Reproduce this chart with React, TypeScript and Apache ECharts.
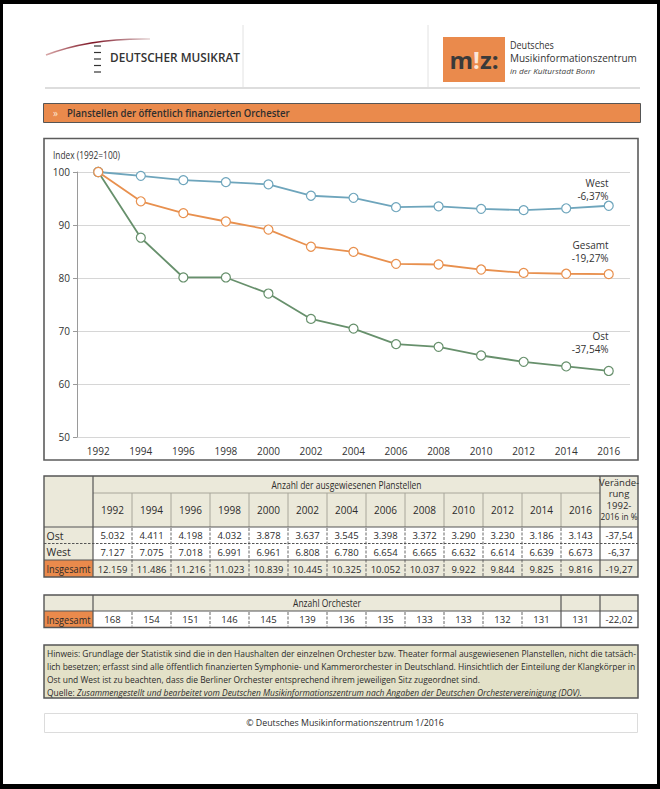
import React, { useEffect, useRef } from 'react';
import * as echarts from 'echarts';

// ---------- data ----------
const years = ['1992', '1994', '1996', '1998', '2000', '2002', '2004', '2006', '2008', '2010', '2012', '2014', '2016'];
const westIndex = [100, 99.27, 98.47, 98.09, 97.67, 95.52, 95.13, 93.36, 93.52, 93.05, 92.8, 93.15, 93.63];
const gesamtIndex = [100, 94.47, 92.24, 90.66, 89.14, 85.9, 84.92, 82.67, 82.55, 81.6, 80.96, 80.8, 80.73];
const ostIndex = [100, 87.6, 80.1, 80.1, 77.07, 72.28, 70.45, 67.53, 67.01, 65.38, 64.19, 63.31, 62.46];
const endLabels = { West: 'West\n-6,37%', Gesamt: 'Gesamt\n-19,27%', Ost: 'Ost\n-37,54%' };
const yMin = 50;
const yMax = 100;
const yStep = 10;

const ostPlan = ['5.032', '4.411', '4.198', '4.032', '3.878', '3.637', '3.545', '3.398', '3.372', '3.290', '3.230', '3.186', '3.143'];
const westPlan = ['7.127', '7.075', '7.018', '6.991', '6.961', '6.808', '6.780', '6.654', '6.665', '6.632', '6.614', '6.639', '6.673'];
const totalPlan = ['12.159', '11.486', '11.216', '11.023', '10.839', '10.445', '10.325', '10.052', '10.037', '9.922', '9.844', '9.825', '9.816'];
const planChange = ['-37,54', '-6,37', '-19,27'];
const rowLabels = ['Ost', 'West', 'Insgesamt'];
const orchestras = ['168', '154', '151', '146', '145', '139', '136', '135', '133', '133', '132', '131', '131'];
const orchestraChange = ['-22,02'];

const noteLines = [
  'Hinweis: Grundlage der Statistik sind die in den Haushalten der einzelnen Orchester bzw. Theater formal ausgewiesenen Planstellen, nicht die tatsäch-',
  'lich besetzen; erfasst sind alle öffentlich finanzierten Symphonie- und Kammerorchester in Deutschland. Hinsichtlich der Einteilung der Klangkörper in',
  'Ost und West ist zu beachten, dass die Berliner Orchester entsprechend ihrem jeweiligen Sitz zugeordnet sind.',
];
const sourcePrefix = 'Quelle: ';
const sourceText = 'Zusammengestellt und bearbeitet vom Deutschen Musikinformationszentrum nach Angaben der Deutschen Orchestervereinigung (DOV).';

// ---------- styling ----------
const FONT = '"Open Sans", "Noto Sans", sans-serif';
const INK = '#2b2b2b';
const BEIGE = '#ebe9da';
const ORANGE = '#ea8a4c';
const BORDER = '#555';
const C_WEST = '#6ea5bc';
const C_GES = '#e8904e';
const C_OST = '#67906c';

let mctx: CanvasRenderingContext2D | null = null;
function measure(text: string, size: number, weight = 'normal', style = 'normal') {
  if (!mctx) mctx = document.createElement('canvas').getContext('2d');
  if (!mctx) return text.length * size * 0.5;
  mctx.font = `${style} ${weight} ${size}px "Open Sans"`;
  return mctx.measureText(text).width;
}

type TOpt = { size?: number; weight?: string; color?: string; align?: string; fit?: number; italic?: boolean; z?: number };
function txt(text: string, x: number, y: number, o: TOpt = {}) {
  const size = o.size ?? 10;
  const weight = o.weight ?? 'normal';
  const fs = o.italic ? 'italic' : 'normal';
  const scale = o.fit ? o.fit / measure(text, size, weight, fs) : 1;
  const align = o.align ?? 'left';
  return {
    type: 'text',
    x,
    y,
    scaleX: scale,
    silent: true,
    z: o.z ?? 20,
    style: {
      text,
      fill: o.color ?? INK,
      fontSize: size,
      fontFamily: FONT,
      fontWeight: weight,
      fontStyle: fs,
      align,
      textAlign: align,
      verticalAlign: 'middle',
      textVerticalAlign: 'middle',
    },
  };
}
function rect(x: number, y: number, w: number, h: number, fill: string, stroke?: string, lw = 1, z = 5) {
  return {
    type: 'rect',
    silent: true,
    z,
    shape: { x, y, width: w, height: h },
    style: { fill, stroke: stroke ?? 'none', lineWidth: lw },
  };
}
function line(x1: number, y1: number, x2: number, y2: number, stroke: string, lw = 1, dash?: number[], z = 8) {
  return {
    type: 'line',
    silent: true,
    z,
    shape: { x1, y1, x2, y2 },
    style: { stroke, lineWidth: lw, lineDash: dash },
  };
}

function buildGraphics() {
  const g: any[] = [];
  // black frame
  g.push(rect(0, 0, 660, 4, '#000', undefined, 1, 50));
  g.push(rect(0, 0, 3, 789, '#000', undefined, 1, 50));
  g.push(rect(657, 0, 3, 789, '#000', undefined, 1, 50));
  g.push(rect(0, 784, 660, 5, '#000', undefined, 1, 50));

  // ---- header: Deutscher Musikrat ----
  g.push({
    type: 'bezierCurve',
    silent: true,
    z: 10,
    shape: { x1: 46, y1: 55, cpx1: 90, cpy1: 38, x2: 150, y2: 39 },
    style: {
      stroke: new echarts.graphic.LinearGradient(0, 0, 1, 0, [
        { offset: 0, color: '#d9a9a9' },
        { offset: 0.45, color: '#7d1424' },
        { offset: 1, color: '#e6d6d6' },
      ]),
      lineWidth: 1.6,
      fill: 'none',
    },
  });
  [46, 52.5, 59, 65.5, 72].forEach((yy) => g.push(line(94, yy, 101, yy, '#333', 1.2)));
  g.push(txt('DEUTSCHER MUSIKRAT', 110, 57, { size: 12, weight: '600', color: '#333', fit: 130 }));
  g.push(line(243, 25, 243, 87, '#e2e2e2', 1));
  g.push(line(428, 25, 428, 87, '#e2e2e2', 1));
  g.push(line(45, 88, 640, 88, '#dddddd', 2));

  // ---- miz logo ----
  g.push(rect(443, 37, 62, 45, ORANGE, undefined, 1, 6));
  g.push({
    type: 'text',
    x: 474,
    y: 59,
    silent: true,
    z: 20,
    style: {
      text: '{a|m}{b|!}{a|z:}',
      align: 'center',
      textAlign: 'center',
      verticalAlign: 'middle',
      textVerticalAlign: 'middle',
      rich: {
        a: { fontSize: 24, fontWeight: 'bold', fontFamily: FONT, fill: '#3a3a3a', color: '#3a3a3a' },
        b: { fontSize: 24, fontWeight: 'bold', fontFamily: FONT, fill: '#fbe7d8', color: '#fbe7d8' },
      },
    },
  });
  g.push(txt('Deutsches', 510, 45, { size: 11, color: '#333', fit: 44 }));
  g.push(txt('Musikinformationszentrum', 510, 58, { size: 11, color: '#333', fit: 127 }));
  g.push(txt('in der Kulturstadt Bonn', 510, 71, { size: 8, italic: true, color: '#444', fit: 85 }));

  // ---- title bar ----
  g.push(rect(43.5, 103.5, 597, 19, ORANGE, BORDER, 1, 6));
  g.push(txt('»', 53, 112.5, { size: 10, color: '#fde3cf' }));
  g.push(txt('Planstellen der öffentlich finanzierten Orchester', 67, 112.5, { size: 11, weight: '600', color: '#2e2e2e', fit: 223 }));

  // ---- chart frame ----
  g.push(rect(44, 138.5, 594, 321.5, 'none', '#5c5c5c', 1.6, 1));
  g.push(txt('Index (1992=100)', 53, 155, { size: 10, color: '#333', fit: 67 }));

  // ---- table 1 ----
  const X0 = 44, XL = 93, CW = 39, XC = 600, X1 = 638;
  const colX = (i: number) => XL + i * CW;
  const colC = (i: number) => XL + i * CW + CW / 2;
  const r0 = 476, r1 = 493, r2 = 527, r3 = 543.5, r4 = 560, r5 = 577;
  g.push(rect(X0, r0, X1 - X0, r2 - r0, BEIGE));
  g.push(rect(X0, r2, XL - X0, r4 - r2, BEIGE));
  g.push(rect(XL, r4, X1 - XL, r5 - r4, BEIGE));
  g.push(rect(X0, r4, XL - X0, r5 - r4, ORANGE));
  // header year separators
  for (let i = 1; i < years.length; i++) g.push(line(colX(i), r1, colX(i), r2, '#a8a69a', 1));
  g.push(line(XL, r1, XC, r1, '#a8a69a', 1));
  // data separators
  for (let i = 1; i < years.length; i++) g.push(line(colX(i), r2 + 1, colX(i), r5 - 1, '#666', 1, [3, 1.5]));
  g.push(line(X0, r3, X1, r3, '#555', 1, [2.5, 1.5]));
  g.push(line(X0, r2, X1, r2, BORDER, 1.2));
  g.push(line(X0, r4, X1, r4, BORDER, 1.2));
  g.push(line(XL, r0, XL, r5, BORDER, 1.2));
  g.push(line(XC, r0, XC, r5, BORDER, 1.2));
  g.push(rect(X0, r0, X1 - X0, r5 - r0, 'none', BORDER, 1.4, 9));
  g.push(txt('Anzahl der ausgewiesenen Planstellen', (XL + XC) / 2, 485, { size: 10, align: 'center', fit: 150 }));
  years.forEach((y, i) => g.push(txt(y, colC(i), 510, { size: 10, align: 'center' })));
  ['Verände-', 'rung', '1992-', '2016 in %'].forEach((s, i) =>
    g.push(txt(s, (XC + X1) / 2, 482 + i * 11.7, { size: 9.5, align: 'center', fit: s === '2016 in %' ? 37 : undefined }))
  );
  const rowsY = [(r2 + r3) / 2, (r3 + r4) / 2, (r4 + r5) / 2];
  rowLabels.forEach((l, i) =>
    g.push(txt(l, 46.5, rowsY[i] + 0.5, { size: 10.5, fit: l === 'Insgesamt' ? 44 : undefined }))
  );
  [ostPlan, westPlan, totalPlan].forEach((row, ri) =>
    row.forEach((v, i) => g.push(txt(v, colC(i), rowsY[ri] + 0.5, { size: 9.5, align: 'center' })))
  );
  planChange.forEach((v, ri) => g.push(txt(v, (XC + X1) / 2, rowsY[ri] + 0.5, { size: 9.5, align: 'center' })));

  // ---- table 2 ----
  const s0 = 595, s1 = 611, s2 = 627.5;
  const X14 = colX(12);
  g.push(rect(X0, s0, X1 - X0, s1 - s0, BEIGE));
  g.push(rect(X0, s1, XL - X0, s2 - s1, ORANGE));
  for (let i = 1; i < 12; i++) g.push(line(colX(i), s1 + 1, colX(i), s2 - 1, '#666', 1, [3, 1.5]));
  g.push(line(X0, s1, X1, s1, BORDER, 1.2));
  g.push(line(XL, s0, XL, s2, BORDER, 1.2));
  g.push(line(X14, s0, X14, s2, BORDER, 1.2));
  g.push(line(XC, s0, XC, s2, BORDER, 1.2));
  g.push(rect(X0, s0, X1 - X0, s2 - s0, 'none', BORDER, 1.4, 9));
  g.push(txt('Anzahl Orchester', (XL + X14) / 2, 603, { size: 10, align: 'center', fit: 68 }));
  g.push(txt('Insgesamt', 46.5, (s1 + s2) / 2 + 0.5, { size: 10.5, fit: 44 }));
  orchestras.forEach((v, i) => g.push(txt(v, colC(i), (s1 + s2) / 2 + 0.5, { size: 9.5, align: 'center' })));
  g.push(txt(orchestraChange[0], (XC + X1) / 2, (s1 + s2) / 2 + 0.5, { size: 9.5, align: 'center' }));

  // ---- notes ----
  g.push(rect(44, 645, 594, 53, '#e3e1c8', BORDER, 1.5, 6));
  const nScale = 590 / measure(noteLines[0], 9.5);
  noteLines.forEach((l, i) => {
    const t: any = txt(l, 47, 653 + i * 13, { size: 9.5 });
    t.scaleX = nScale;
    g.push(t);
  });
  g.push({
    type: 'text',
    x: 47,
    y: 692,
    scaleX: nScale,
    silent: true,
    z: 20,
    style: {
      text: `{n|${sourcePrefix}}{i|${sourceText}}`,
      verticalAlign: 'middle',
      textVerticalAlign: 'middle',
      rich: {
        n: { fontSize: 9.5, fontFamily: FONT, fill: INK, color: INK },
        i: { fontSize: 9.5, fontFamily: FONT, fontStyle: 'italic', fill: INK, color: INK },
      },
    },
  });

  // ---- footer ----
  g.push(rect(44.5, 713.5, 593, 19, '#fff', '#dcdcdc', 1, 6));
  g.push(txt('© Deutsches Musikinformationszentrum 1/2016', 345, 722.5, { size: 9.5, align: 'center', fit: 198 }));
  return g;
}

function lastLabel(values: number[], text: string, pos: number[]) {
  return values.map((v, i) =>
    i === values.length - 1
      ? {
          value: v,
          label: {
            show: true,
            formatter: text,
            position: pos,
            align: 'right',
            verticalAlign: 'bottom',
            fontSize: 10,
            lineHeight: 13,
            color: '#333',
            fontFamily: FONT,
          },
        }
      : v
  );
}

function makeSeries(name: string, values: number[], color: string, label: string, pos: number[]) {
  return {
    type: 'line',
    name,
    data: lastLabel(values, label, pos),
    symbol: 'circle',
    symbolSize: 9,
    lineStyle: { color, width: 1.8 },
    itemStyle: { color: '#fff', borderColor: color, borderWidth: 1.2 },
    emphasis: { disabled: true },
  };
}

export default function App() {
  const ref = useRef<HTMLDivElement>(null);
  useEffect(() => {
    if (!ref.current) return;
    const chart = echarts.init(ref.current, undefined, { renderer: 'svg' });
    chart.setOption({
      animation: false,
      backgroundColor: '#fff',
      textStyle: { fontFamily: FONT },
      grid: { left: 77, right: 30, top: 172, bottom: 352, containLabel: false },
      xAxis: {
        type: 'category',
        data: years,
        boundaryGap: true,
        axisLine: { show: false },
        axisTick: { show: false },
        axisLabel: { color: '#333', fontSize: 10, margin: 9, interval: 0, fontFamily: FONT },
      },
      yAxis: {
        type: 'value',
        min: yMin,
        max: yMax,
        interval: yStep,
        axisLine: { show: true, lineStyle: { color: '#9a9a9a', width: 1 } },
        axisTick: { show: true, length: 4, lineStyle: { color: '#9a9a9a' } },
        axisLabel: { color: '#333', fontSize: 10, margin: 7, fontFamily: FONT },
        splitLine: { show: true, lineStyle: { color: '#d6d6d6', width: 1 } },
      },
      series: [
        makeSeries('Ost', ostIndex, C_OST, endLabels.Ost, [5, -10]),
        makeSeries('West', westIndex, C_WEST, endLabels.West, [5, 2]),
        makeSeries('Gesamt', gesamtIndex, C_GES, endLabels.Gesamt, [5, -5]),
      ],
      graphic: { elements: buildGraphics() },
    });
    return () => chart.dispose();
  }, []);
  return <div ref={ref} style={{ position: 'absolute', left: 0, top: 0, width: 660, height: 789 }} />;
}
